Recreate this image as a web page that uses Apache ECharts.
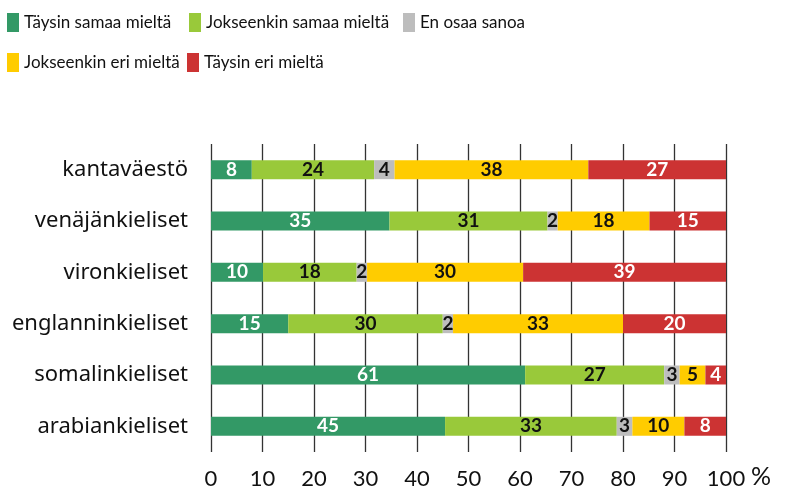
<!DOCTYPE html>
<html>
<head>
<meta charset="utf-8">
<script src="https://cdn.jsdelivr.net/npm/echarts@6/dist/echarts.min.js"></script>
<style>
  html, body { margin: 0; padding: 0; background: #fff; }
  #main { width: 799px; height: 490px; }
</style>
</head>
<body>
<div id="main"></div>
<script>
// kategoriat ylhäältä alas
var categories = ['kantaväestö', 'venäjänkieliset', 'vironkieliset', 'englanninkieliset', 'somalinkieliset', 'arabiankieliset'];
var seriesNames = ['Täysin samaa mieltä', 'Jokseenkin samaa mieltä', 'En osaa sanoa', 'Jokseenkin eri mieltä', 'Täysin eri mieltä'];
var colors = ['#339966', '#99c93a', '#bdbdbd', '#ffcc00', '#cc3333'];
var labelColors = ['#fff', '#111', '#111', '#111', '#fff'];

// prosentit (rivit eivät aina summaudu sataan)
var taysinSamaa = [8, 35, 10, 15, 61, 45];
var jokseenkinSamaa = [24, 31, 18, 30, 27, 33];
var enOsaa = [4, 2, 2, 2, 3, 3];
var jokseenkinEri = [38, 18, 30, 33, 5, 10];
var taysinEri = [27, 15, 39, 20, 4, 8];
var xTicks = [0, 10, 20, 30, 40, 50, 60, 70, 80, 90, 100];

var raw = [taysinSamaa, jokseenkinSamaa, enOsaa, jokseenkinEri, taysinEri];

var chart = echarts.init(document.getElementById('main'));
var font = 'Lato';
var labelFont = '"Noto Sans", Lato, sans-serif';

// rivisummat, palkit skaalataan 100 %:iin
var sums = categories.map(function(c, i) {
    var s = 0;
    raw.forEach(function(arr) { s += arr[i]; });
    return s;
});

var series = raw.map(function(arr, k) {
    return {
        name: seriesNames[k],
        type: 'bar',
        stack: 'total',
        barWidth: 19,
        itemStyle: { color: colors[k] },
        label: {
            show: true,
            position: 'inside',
            color: labelColors[k],
            fontFamily: font,
            fontWeight: 'bold',
            fontSize: 19,
            formatter: function(p) { return arr[p.dataIndex]; }
        },
        data: arr.map(function(v, i) { return v / sums[i] * 100; })
    };
});

var legendPos = [[7, 13], [189, 13], [403, 13], [7, 53], [187, 53]];
var legends = seriesNames.map(function(n, k) {
    return {
        data: [n],
        left: legendPos[k][0],
        top: legendPos[k][1],
        padding: 0,
        itemWidth: 12,
        itemHeight: 19,
        icon: 'rect',
        textStyle: { fontFamily: font, fontSize: 17, color: '#111' }
    };
});

var option = {
    animation: false,
    legend: legends,
    grid: { left: 211, right: 73, top: 144, bottom: 35 },
    xAxis: {
        type: 'value',
        min: 0,
        max: 100,
        interval: 10,
        name: '%',
        nameLocation: 'end',
        nameGap: 19,
        nameTextStyle: { fontFamily: font, fontSize: 25, color: '#111', verticalAlign: 'top', padding: [12, 0, 0, 0] },
        axisLine: { show: false },
        axisTick: { show: false },
        splitLine: { show: true, lineStyle: { color: '#333', width: 1.3 } },
        axisLabel: {
            margin: 16,
            fontFamily: font,
            fontSize: 22,
            color: '#111',
            formatter: function(v) { return xTicks.indexOf(v) >= 0 ? String(v) : ''; }
        }
    },
    yAxis: {
        type: 'category',
        inverse: true,
        data: categories,
        axisLine: { show: false },
        axisTick: { show: false },
        axisLabel: { margin: 23, fontFamily: labelFont, fontSize: 22, color: '#111' }
    },
    series: series
};

chart.setOption(option);
</script>
</body>
</html>
